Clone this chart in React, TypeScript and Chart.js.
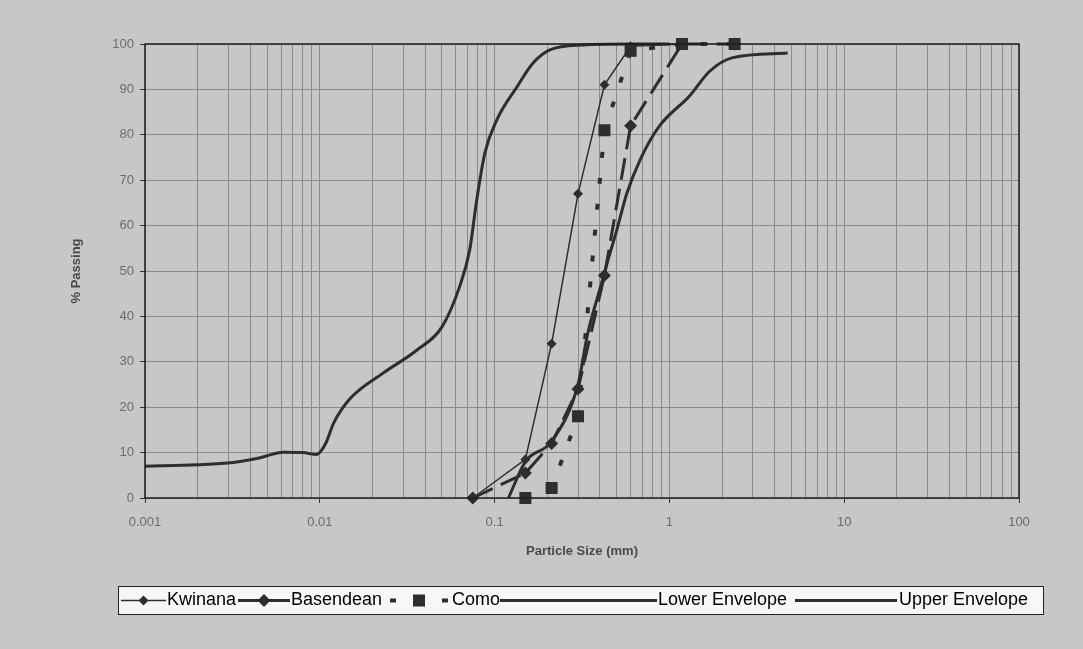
import React, { useEffect, useRef } from "react";
import { Chart, registerables } from "chart.js";

Chart.register(...registerables);

// ---------- data ----------
const seriesNames = ["Kwinana", "Basendean", "Como", "Lower Envelope", "Upper Envelope"];

const kwinanaSizes = [0.075, 0.15, 0.212, 0.3, 0.425, 0.6, 1.18];
const kwinanaPassing = [0, 8.5, 34, 67, 91, 99.5, 100];

const basendeanSizes = [0.075, 0.15, 0.212, 0.3, 0.425, 0.6, 1.18, 2.36];
const basendeanPassing = [0, 5.5, 12, 24, 49, 82, 100, 100];

const comoSizes = [0.15, 0.212, 0.3, 0.425, 0.6, 1.18, 2.36];
const comoPassing = [0, 2.2, 18, 81, 98.5, 100, 100];

const lowerSizes = [0.12, 0.15, 0.212, 0.3, 0.34, 0.4, 0.45, 0.5, 0.57, 0.68, 0.88, 1.3, 1.7, 2.3, 4.75];
const lowerPassing = [0, 8, 12.5, 25, 36, 46, 53, 59, 67, 74.5, 82, 88.5, 94, 97, 98];

const upperSizes = [0.001, 0.002, 0.0032, 0.0045, 0.0062, 0.008, 0.0096, 0.0108, 0.012, 0.015, 0.023, 0.036, 0.05, 0.063, 0.072, 0.079, 0.088, 0.103, 0.134, 0.166, 0.207, 0.32, 0.6, 1.0];
const upperPassing = [7, 7.3, 7.8, 8.8, 10.1, 10, 9.6, 12, 16.5, 22, 27.5, 32.6, 37.7, 46.5, 54.6, 65.6, 76, 83.3, 90.5, 95.8, 98.7, 99.8, 100, 100];

const xTickLabels = ["0.001", "0.01", "0.1", "1", "10", "100"];
const yTickLabels = ["0", "10", "20", "30", "40", "50", "60", "70", "80", "90", "100"];

const xTitle = "Particle Size (mm)";
const yTitle = "% Passing";

// ---------- styles ----------
const INK = "#2e2e2e";
const BG = "#c7c7c7";
const GRID = "#8a8a8a";
const FONT = "'Liberation Sans', Arial, sans-serif";

const toPts = (xs: number[], ys: number[]) => xs.map((x, i) => ({ x, y: ys[i] }));

const W = 1083;
const H = 649;

function drawMarker(ctx: CanvasRenderingContext2D, style: string, x: number, y: number, r: number) {
  ctx.beginPath();
  if (style === "rectRot") {
    ctx.moveTo(x, y - r);
    ctx.lineTo(x + r, y);
    ctx.lineTo(x, y + r);
    ctx.lineTo(x - r, y);
    ctx.closePath();
  } else if (style === "rect") {
    const s = r * Math.SQRT1_2;
    ctx.rect(x - s, y - s, 2 * s, 2 * s);
  }
  ctx.fill();
}

const bgPlugin = {
  id: "bgPlugin",
  beforeDraw(chart: any) {
    const { ctx, width, height } = chart;
    ctx.save();
    ctx.fillStyle = BG;
    ctx.fillRect(0, 0, width, height);
    ctx.restore();
  },
  afterDatasetsDraw(chart: any) {
    const { ctx, chartArea } = chart;
    ctx.save();
    ctx.strokeStyle = "#1e1e1e";
    ctx.lineWidth = 1.5;
    ctx.strokeRect(chartArea.left, chartArea.top, chartArea.right - chartArea.left, chartArea.bottom - chartArea.top);
    ctx.restore();
  },
};

const legendPlugin = {
  id: "excelLegend",
  afterDraw(chart: any) {
    const ctx: CanvasRenderingContext2D = chart.ctx;
    ctx.save();
    const bx = 118, by = 586, bw = 925, bh = 28;
    ctx.fillStyle = "#f7f7f7";
    ctx.fillRect(bx, by, bw, bh);
    ctx.strokeStyle = "#222";
    ctx.lineWidth = 1;
    ctx.strokeRect(bx + 0.5, by + 0.5, bw, bh);
    const cy = by + bh / 2 + 0.5;
    ctx.font = `18px ${FONT}`;
    ctx.textBaseline = "middle";
    ctx.fillStyle = "#000";
    const symStart = [121, 238, 390, 500, 795];
    const symEnd = [166, 290, 448, 657, 897];
    const textStart = [167, 291, 452, 658, 899];
    chart.data.datasets.forEach((ds: any, i: number) => {
      ctx.beginPath();
      ctx.setLineDash(ds.borderDash || []);
      ctx.lineWidth = ds.borderWidth;
      ctx.strokeStyle = ds.borderColor;
      ctx.moveTo(symStart[i], cy);
      ctx.lineTo(symEnd[i], cy);
      ctx.stroke();
      ctx.setLineDash([]);
      if (ds.pointRadius > 0) {
        ctx.fillStyle = ds.pointBackgroundColor;
        drawMarker(ctx, ds.pointStyle, (symStart[i] + symEnd[i]) / 2, cy, ds.pointRadius);
      }
      ctx.fillStyle = "#000";
      ctx.fillText(ds.label, textStart[i], cy);
    });
    ctx.restore();
  },
};

// log grid values (1..9 per decade)
const xGridValues: number[] = [];
for (let e = -3; e <= 1; e++) {
  for (let d = 1; d <= 9; d++) xGridValues.push(parseFloat((d * Math.pow(10, e)).toPrecision(6)));
}
xGridValues.push(100);
const isMajor = (v: number) => Math.abs(Math.log10(v) - Math.round(Math.log10(v))) < 1e-6;

export default function App() {
  const ref = useRef<HTMLCanvasElement | null>(null);

  useEffect(() => {
    document.body.style.margin = "0";
    document.body.style.background = BG;
    if (!ref.current) return;
    const chart = new Chart(ref.current, {
      type: "line",
      data: {
        datasets: [
          {
            label: seriesNames[0],
            data: toPts(kwinanaSizes, kwinanaPassing),
            borderColor: INK,
            borderWidth: 1.5,
            pointStyle: "rectRot",
            pointRadius: 5,
            pointBackgroundColor: INK,
            pointBorderWidth: 0,
            clip: false as any,
          },
          {
            label: seriesNames[1],
            data: toPts(basendeanSizes, basendeanPassing),
            borderColor: INK,
            borderWidth: 3,
            borderDash: [22, 9],
            pointStyle: "rectRot",
            pointRadius: 6.5,
            pointBackgroundColor: INK,
            pointBorderWidth: 0,
            clip: false as any,
          },
          {
            label: seriesNames[2],
            data: toPts(comoSizes, comoPassing),
            borderColor: INK,
            borderWidth: 4,
            borderDash: [6, 20],
            pointStyle: "rect",
            pointRadius: 8.5,
            pointBackgroundColor: INK,
            pointBorderWidth: 0,
            clip: false as any,
          },
          {
            label: seriesNames[3],
            data: toPts(lowerSizes, lowerPassing),
            borderColor: INK,
            borderWidth: 3,
            pointRadius: 0,
            cubicInterpolationMode: "monotone",
            clip: false as any,
          },
          {
            label: seriesNames[4],
            data: toPts(upperSizes, upperPassing),
            borderColor: INK,
            borderWidth: 3,
            pointRadius: 0,
            cubicInterpolationMode: "monotone",
            clip: false as any,
          },
        ] as any,
      },
      options: {
        animation: false,
        responsive: true,
        maintainAspectRatio: false,
        layout: { padding: { left: 0, top: 44, right: 64, bottom: 0 } },
        plugins: { legend: { display: false }, tooltip: { enabled: false } },
        scales: {
          x: {
            type: "logarithmic",
            min: 0.001,
            max: 100,
            afterBuildTicks: (scale: any) => {
              scale.ticks = xGridValues.map((v) => ({ value: v, major: isMajor(v) }));
            },
            afterFit: (scale: any) => {
              scale.height = 151;
            },
            ticks: {
              autoSkip: false,
              maxRotation: 0,
              minRotation: 0,
              padding: 12,
              color: "#6b6b6b",
              font: { family: FONT, size: 13 },
              callback: (value: any) => {
                const v = Number(value);
                if (!isMajor(v)) return "";
                return xTickLabels[Math.round(Math.log10(v)) + 3];
              },
            },
            grid: {
              color: GRID,
              lineWidth: 1,
              tickLength: 5,
              tickColor: (c: any) => (c.tick && isMajor(c.tick.value) ? "#333" : "rgba(0,0,0,0)"),
            },
            border: { display: false },
            title: {
              display: true,
              text: xTitle,
              color: "#4a4a4a",
              font: { family: FONT, size: 13, weight: "bold" },
              padding: { top: 0, bottom: 90 },
            },
          },
          y: {
            type: "linear",
            min: 0,
            max: 100,
            afterFit: (scale: any) => {
              scale.width = 145;
            },
            ticks: {
              stepSize: 10,
              padding: 6,
              color: "#6b6b6b",
              font: { family: FONT, size: 13 },
              callback: (value: any, index: number) => yTickLabels[index],
            },
            grid: {
              color: GRID,
              lineWidth: 1,
              tickLength: 5,
              tickColor: "#333",
            },
            border: { display: false },
            title: {
              display: true,
              text: yTitle,
              color: "#4a4a4a",
              font: { family: FONT, size: 13, weight: "bold" },
              padding: { top: 69, bottom: 0 },
            },
          },
        },
      } as any,
      plugins: [bgPlugin, legendPlugin],
    });
    return () => chart.destroy();
  }, []);

  return (
    <div style={{ width: W, height: H, position: "relative", background: BG }}>
      <canvas ref={ref} />
    </div>
  );
}
